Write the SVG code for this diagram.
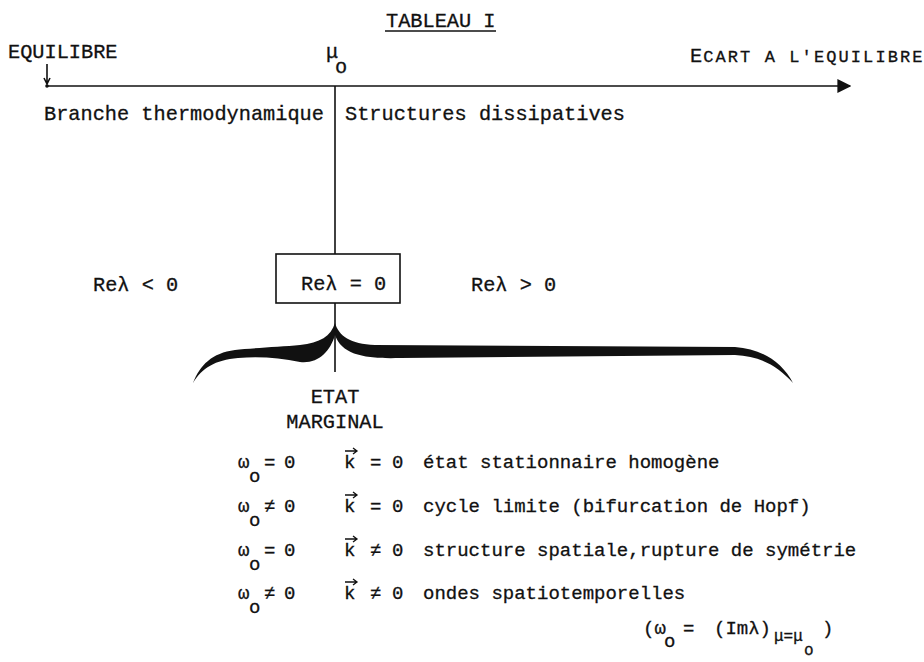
<svg xmlns="http://www.w3.org/2000/svg" width="924" height="662" viewBox="0 0 924 662">
<style>
text{font-family:"Liberation Mono","DejaVu Sans Mono",monospace;font-size:20.3px;fill:#111;stroke:#111;stroke-width:0.3}
.r{font-size:19px}
.sm{font-size:17px}
.sub{font-size:16px}
.ln{stroke:#111;stroke-width:1.6;fill:none}
.vec{stroke:#111;stroke-width:1.3;fill:none}
</style>
<defs>
<marker id="ah" viewBox="0 0 10 10" refX="9" refY="5" markerWidth="14" markerHeight="14" markerUnits="userSpaceOnUse" orient="auto"><path d="M0,0 L10,5 L0,10 Z" fill="#111"/></marker>
</defs>
<rect width="924" height="662" fill="#fff"/>
<g id="title">
<text x="386" y="27">TABLEAU I</text>
<line class="ln" x1="385" y1="31" x2="496" y2="31"/>
</g>
<g id="equilibre">
<text x="8" y="58">EQUILIBRE</text>
</g>
<g id="mu0">
<text x="326" y="58">μ</text>
<text x="335" y="73">o</text>
</g>
<g id="ecart">
<text x="690" y="62">E<tspan class="sm" dx="1" letter-spacing="2.1">CART A L'EQUILIBRE</tspan></text>
</g>
<g id="branche"><text x="44" y="120">Branche thermodynamique</text></g>
<g id="structures"><text x="345" y="120">Structures dissipatives</text></g>
<g id="re-neg"><text x="93" y="291">Reλ &lt; 0</text></g>
<g id="re-zero">
<rect x="276" y="254" width="124" height="49" fill="none" stroke="#111" stroke-width="1.6"/>
<text x="301" y="290">Reλ = 0</text>
</g>
<g id="re-pos"><text x="471" y="291">Reλ &gt; 0</text></g>
<g id="brace">
<path fill="#111" d="M335,323 C331,336 320,343 300,345 C280,347 250,348 235,350 C212,353 200,365 193,383 C202,368 215,360 238,358 C260,356 280,358 300,362 C318,364 330,352 335,335 Z"/>
<path fill="#111" d="M335,323 C339,336 350,344 375,345 L735,347 C762,349 782,362 793,383 C778,366 760,356 735,355 L400,358 C365,359 342,355 335,335 Z"/>
</g>
<g id="etat-marginal">
<text x="335" y="403" text-anchor="middle">ETAT</text>
<text x="335" y="428" text-anchor="middle">MARGINAL</text>
</g>
<g id="connectors">
<line class="ln" x1="47" y1="86" x2="850" y2="86" marker-end="url(#ah)"/>
<circle cx="47" cy="86" r="1.8" fill="#111"/>
<path class="ln" d="M47,64 L47,84 M44,78 L47,84 L50,78"/>
<line class="ln" x1="335" y1="86" x2="335" y2="254"/>
<line class="ln" x1="335" y1="303" x2="335" y2="372"/>
</g>
<g id="row1">
<text class="r" x="238" y="468">ω</text><text class="r" x="249" y="482">o</text>
<text class="r" x="264" y="468">=</text><text class="r" x="284" y="468">0</text>
<text class="r" x="344" y="468">k</text><path class="vec" d="M345,451 L357,451 M353,448 L357,451 L353,454"/>
<text class="r" x="370" y="468">=</text><text class="r" x="392" y="468">0</text>
<text class="r" x="423" y="468">état stationnaire homogène</text>
</g>
<g id="row2">
<text class="r" x="238" y="512">ω</text><text class="r" x="249" y="526">o</text>
<text class="r" x="264" y="512">≠</text><text class="r" x="284" y="512">0</text>
<text class="r" x="344" y="512">k</text><path class="vec" d="M345,495 L357,495 M353,492 L357,495 L353,498"/>
<text class="r" x="370" y="512">=</text><text class="r" x="392" y="512">0</text>
<text class="r" x="423" y="512">cycle limite (bifurcation de Hopf)</text>
</g>
<g id="row3">
<text class="r" x="238" y="556">ω</text><text class="r" x="249" y="570">o</text>
<text class="r" x="264" y="556">=</text><text class="r" x="284" y="556">0</text>
<text class="r" x="344" y="556">k</text><path class="vec" d="M345,539 L357,539 M353,536 L357,539 L353,542"/>
<text class="r" x="370" y="556">≠</text><text class="r" x="392" y="556">0</text>
<text class="r" x="423" y="556">structure spatiale,rupture de symétrie</text>
</g>
<g id="row4">
<text class="r" x="238" y="599">ω</text><text class="r" x="249" y="613">o</text>
<text class="r" x="264" y="599">≠</text><text class="r" x="284" y="599">0</text>
<text class="r" x="344" y="599">k</text><path class="vec" d="M345,582 L357,582 M353,579 L357,582 L353,585"/>
<text class="r" x="370" y="599">≠</text><text class="r" x="392" y="599">0</text>
<text class="r" x="423" y="599">ondes spatiotemporelles</text>
</g>
<g id="definition">
<text class="r" x="643" y="634">(ω</text><text class="r" x="664" y="647">o</text>
<text class="r" x="683" y="634">=</text>
<text class="r" x="714" y="634">(Imλ)</text>
<text class="sub" x="774" y="641">μ=μ</text>
<text class="sub" x="804" y="655">o</text>
<text class="r" x="822" y="634">)</text>
</g>
</svg>
